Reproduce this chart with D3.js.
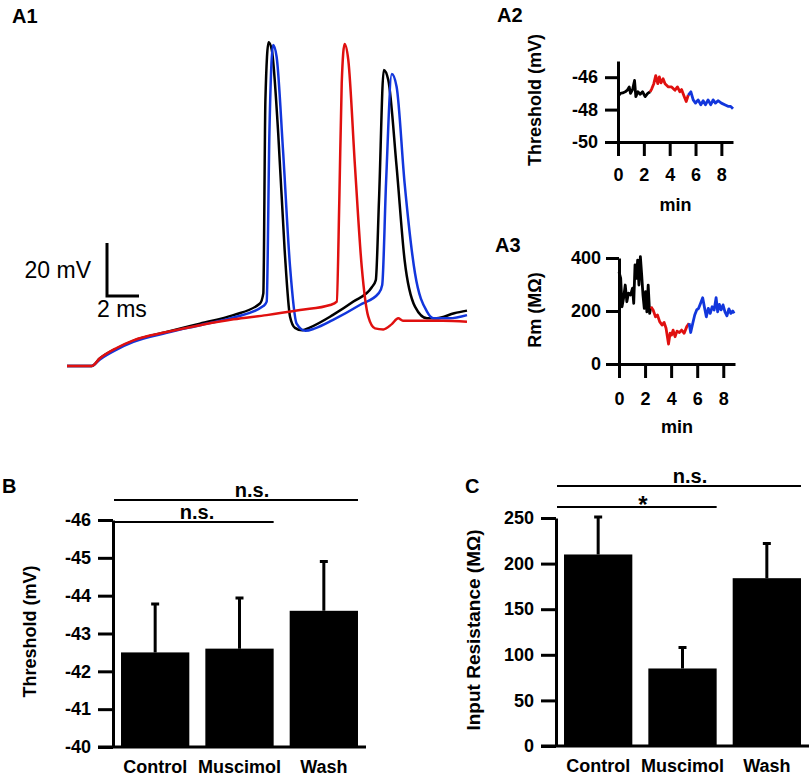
<!DOCTYPE html>
<html>
<head>
<meta charset="utf-8">
<script src="https://cdn.jsdelivr.net/npm/d3@7"></script>
<style>
  body { margin: 0; background: #fff; }
</style>
</head>
<body>
<svg id="chart"></svg>
<script>
// A1 traces: [time ms, membrane potential mV]
const traceControl = [[0,-80],[1.54,-80],[2.06,-77.1],[3.1,-73.4],[4.15,-70.5],[6.23,-67.2],[8.31,-64.0],[10.4,-60.8],[12.06,-56.4],[12.27,-52.6],[12.4,20.4],[12.6,42.2],[12.8,39.2],[13.2,7.9],[13.6,-36],[13.94,-61.4],[14.25,-65.6],[14.7,-66.5],[15.2,-65.4],[16.6,-60.8],[17.9,-55.7],[19.05,-50.3],[19.3,-47.6],[19.5,-17.4],[19.8,31.7],[20.08,27.9],[20.6,-4.8],[21.1,-40],[21.75,-57.6],[22.5,-62],[23.1,-62],[24.2,-60.1],[25,-59.1]];
const traceWash = [[0,-80],[1.54,-80],[2.06,-77.5],[3.1,-73.8],[4.15,-70.9],[6.23,-67.5],[8.31,-64.6],[10.4,-61.7],[12.27,-57.4],[12.48,-55.7],[12.65,7.8],[12.88,41.1],[13.1,36.7],[13.5,1.5],[13.94,-42.5],[14.35,-64],[14.9,-66.7],[15.5,-65.8],[16.6,-62.7],[18.3,-57],[19.5,-52.4],[19.7,-49.4],[19.94,-11],[20.3,30.2],[20.6,25.4],[21.1,-11],[21.75,-45],[22.5,-59.5],[22.9,-62],[23.9,-62],[25,-60.8]];
const traceMuscimol = [[0,-80],[1.54,-80],[2.06,-77.1],[3.1,-73.2],[4.15,-70.3],[6.23,-67.2],[8.31,-64.6],[10.4,-62.4],[12.48,-60.8],[14.56,-58.9],[16.44,-57.0],[16.86,-55.7],[17.02,-17.4],[17.17,26.7],[17.35,41.5],[17.58,35.5],[18.0,-4.8],[18.42,-42.5],[18.83,-61.4],[19.25,-65.8],[19.77,-66.2],[20.3,-64.2],[20.7,-62],[21.0,-62.9],[21.85,-62.9],[23.5,-62.9],[25,-63.3]];

// A2 threshold over time: [min, mV]
const thrControl = [[0,-47.2],[0.18,-47.0],[0.36,-46.97],[0.56,-46.9],[0.72,-46.8],[0.87,-46.6],[0.97,-47.0],[1.13,-46.76],[1.28,-46.2],[1.38,-47.2],[1.54,-46.9],[1.72,-47.05],[1.9,-46.9],[2.1,-47.2],[2.3,-47.0],[2.49,-46.9]];
const thrMuscimol = [[2.49,-46.9],[2.62,-46.7],[2.77,-46.4],[2.92,-45.9],[3.08,-46.4],[3.2,-45.98],[3.33,-46.35],[3.49,-46.1],[3.64,-46.4],[3.9,-46.6],[4.15,-46.6],[4.41,-46.8],[4.6,-46.6],[4.79,-46.9],[4.92,-46.76],[5.13,-47.2],[5.28,-47.5],[5.44,-47.1]];
const thrWash = [[5.44,-47.1],[5.64,-46.9],[5.82,-47.4],[6.0,-47.6],[6.2,-47.4],[6.41,-47.7],[6.59,-47.45],[6.77,-47.7],[6.97,-47.4],[7.18,-47.7],[7.36,-47.4],[7.54,-47.6],[7.74,-47.45],[8.0,-47.6],[8.26,-47.7],[8.51,-47.8],[8.72,-47.8],[8.9,-47.95]];

// A3 membrane resistance over time: [min, MOhm]
const rmControl = [[0,348],[0.13,323],[0.23,216],[0.35,248],[0.48,298],[0.6,235],[0.73,267],[0.88,260],[1.04,286],[1.13,229],[1.23,374],[1.34,323],[1.43,392],[1.53,298],[1.64,405],[1.74,336],[1.84,260],[1.94,210],[2.04,273],[2.14,197],[2.24,298],[2.35,191],[2.45,216]];
const rmMuscimol = [[2.45,216],[2.62,204],[2.8,178],[2.95,185],[3.12,160],[3.3,147],[3.46,157],[3.61,135],[3.8,75],[3.92,116],[4.03,109],[4.15,128],[4.3,103],[4.45,124],[4.63,119],[4.8,128],[5.0,116],[5.2,141],[5.38,154]];
const rmWash = [[5.38,154],[5.5,119],[5.66,154],[5.81,185],[5.96,204],[6.11,210],[6.26,229],[6.42,250],[6.57,210],[6.7,178],[6.85,210],[7.0,191],[7.15,216],[7.3,204],[7.45,250],[7.57,197],[7.7,225],[7.83,204],[7.98,223],[8.13,197],[8.28,182],[8.43,208],[8.58,191],[8.73,200],[8.83,191]];

// B and C summaries
const conditions = ["Control", "Muscimol", "Wash"];
const thresholdMean = [-42.5, -42.6, -43.6];
const thresholdErr = [1.28, 1.34, 1.3];
const resistanceMean = [210, 85, 184];
const resistanceErr = [41, 23, 38];

const thrTicks = [-46, -48, -50];
const rmTicks = [0, 200, 400];
const minTicks = [0, 2, 4, 6, 8];

const W = 810, H = 778;
const font = '"Liberation Sans", Arial, Helvetica, sans-serif';
const black = "#000", red = "#e0100f", blue = "#1236dc";

const svg = d3.select("#chart").attr("width", W).attr("height", H)
  .attr("font-family", font);

function label(x, y, txt, size, opts = {}) {
  const t = svg.append("text").attr("x", x).attr("y", y).text(txt)
    .attr("font-size", size).attr("font-weight", opts.weight || "bold")
    .attr("text-anchor", opts.anchor || "start").attr("fill", "#000");
  if (opts.rotate) t.attr("transform", `rotate(-90,${x},${y})`);
  return t;
}

function styleAxis(g, size) {
  g.attr("font-family", font).attr("font-size", size).attr("font-weight", "bold");
  g.select(".domain").attr("stroke-width", 3).attr("stroke", "#000");
  g.selectAll(".tick line").attr("stroke-width", 3).attr("stroke", "#000");
  g.selectAll(".tick text").attr("fill", "#000");
}

// ---------- A1 ----------
const xA1 = d3.scaleLinear().domain([0, 25]).range([67, 467]);
const yA1 = d3.scaleLinear().domain([-80, 42]).range([366, 42.7]);
const lineA1 = d3.line().x(d => xA1(d[0])).y(d => yA1(d[1])).curve(d3.curveMonotoneX);

[[traceControl, black], [traceWash, blue], [traceMuscimol, red]].forEach(([d, c]) => {
  svg.append("path").datum(d).attr("d", lineA1).attr("fill", "none")
    .attr("stroke", c).attr("stroke-width", 2.5).attr("stroke-linejoin", "round");
});

// scale bar 20 mV / 2 ms
const sbT = 2.5, sbV = -53.6;
svg.append("path")
  .attr("d", `M${xA1(sbT)},${yA1(sbV + 20)}V${yA1(sbV)}H${xA1(sbT + 2)}`)
  .attr("fill", "none").attr("stroke", "#000").attr("stroke-width", 3);
label(91, 278, "20 mV", 23, { weight: "normal", anchor: "end" });
label(97, 317, "2 ms", 23, { weight: "normal" });

label(12, 23, "A1", 20);

// ---------- A2 / A3 ----------
function timePanel(xr, yDom, yr, ticks, series, yLab, yLabY, minBase, xPad, yPad) {
  const x = d3.scaleLinear().domain([0, 8.9]).range(xr);
  const y = d3.scaleLinear().domain(yDom).range(yr);
  const gy = svg.append("g").attr("transform", `translate(${xr[0]},0)`)
    .call(d3.axisLeft(y).tickValues(ticks).tickSize(13).tickSizeOuter(0).tickPadding(yPad).tickFormat(d => String(d)));
  styleAxis(gy, 18);
  const gx = svg.append("g").attr("transform", `translate(0,${yr[0]})`)
    .call(d3.axisBottom(x).tickValues(minTicks).tickSize(14).tickSizeOuter(0).tickPadding(xPad));
  styleAxis(gx, 18);
  const ln = d3.line().x(d => x(d[0])).y(d => y(d[1]));
  series.forEach(([d, c]) => {
    svg.append("path").datum(d).attr("d", ln).attr("fill", "none")
      .attr("stroke", c).attr("stroke-width", 2.8).attr("stroke-linejoin", "round");
  });
  label(541, yLabY, yLab, 18, { anchor: "middle", rotate: true });
  label((xr[0] + xr[1]) / 2, minBase, "min", 18, { anchor: "middle" });
}

timePanel([618, 733], [-50, -45], [142, 61], thrTicks,
  [[thrControl, black], [thrMuscimol, red], [thrWash, blue]],
  "Threshold (mV)", 100, 211, 12, 7);
label(497, 22, "A2", 20);

timePanel([619, 735], [0, 400], [364, 258], rmTicks,
  [[rmControl, black], [rmMuscimol, red], [rmWash, blue]],
  "Rm (MΩ)", 310, 433, 14, 5);
label(495, 252, "A3", 20);

// ---------- B / C bar panels ----------
function barPanel(x0, x1, yDom, yr, tickVals, means, errs, yLab, yLabX, labSize, sig) {
  const x = d3.scaleBand().domain(conditions).range([x0, x1]).paddingInner(0.19).paddingOuter(0.095);
  const y = d3.scaleLinear().domain(yDom).range(yr);
  const base = yDom[0];
  const data = conditions.map((c, i) => ({ c, m: means[i], e: errs[i] }));
  const dir = Math.sign(yDom[1] - yDom[0]);

  // error bars
  svg.append("g").selectAll("path").data(data).join("path")
    .attr("d", d => {
      const cx = x(d.c) + x.bandwidth() / 2;
      const top = y(d.m + dir * d.e);
      return `M${cx},${y(d.m)}V${top}M${cx - 4},${top}H${cx + 4}`;
    })
    .attr("stroke", "#000").attr("stroke-width", 3).attr("fill", "none");

  svg.append("g").selectAll("rect").data(data).join("rect")
    .attr("x", d => x(d.c)).attr("width", x.bandwidth())
    .attr("y", d => y(d.m)).attr("height", d => y(base) - y(d.m))
    .attr("fill", "#000");

  const gy = svg.append("g").attr("transform", `translate(${x0},0)`)
    .call(d3.axisLeft(y).tickValues(tickVals).tickSize(15).tickSizeOuter(0).tickPadding(7).tickFormat(d => String(d)));
  styleAxis(gy, 18);

  svg.append("line").attr("x1", x0 - 15).attr("x2", x1).attr("y1", y(base)).attr("y2", y(base))
    .attr("stroke", "#000").attr("stroke-width", 3);

  const gx = svg.append("g").attr("transform", `translate(0,${y(base)})`)
    .call(d3.axisBottom(x).tickSize(0).tickPadding(13));
  gx.select(".domain").remove();
  styleAxis(gx, 18);

  label(yLabX, (yr[0] + yr[1]) / 2 - 2, yLab, labSize, { anchor: "middle", rotate: true });

  // significance brackets
  sig.forEach(s => {
    const xe = x(s.to) + x.bandwidth();
    svg.append("line").attr("x1", x0 + 1).attr("x2", xe).attr("y1", s.y).attr("y2", s.y)
      .attr("stroke", "#000").attr("stroke-width", 2);
    label(s.tx, s.ty, s.text, s.size || 20, { anchor: "middle" });
  });
}

barPanel(113, 366, [-40, -46], [747, 520], d3.range(-46, -39, 1), thresholdMean, thresholdErr,
  "Threshold (mV)", 36, 18,
  [{ to: "Wash", y: 500, text: "n.s.", tx: 252, ty: 497 },
   { to: "Muscimol", y: 522, text: "n.s.", tx: 197, ty: 519 }]);
label(2, 493, "B", 20);

barPanel(556, 809, [0, 250], [746, 518], d3.range(0, 251, 50), resistanceMean, resistanceErr,
  "Input Resistance (MΩ)", 480, 19,
  [{ to: "Wash", y: 486, text: "n.s.", tx: 690, ty: 483 },
   { to: "Muscimol", y: 507, text: "*", tx: 643, ty: 513, size: 24 }]);
label(465, 493, "C", 20);
</script>
</body>
</html>
